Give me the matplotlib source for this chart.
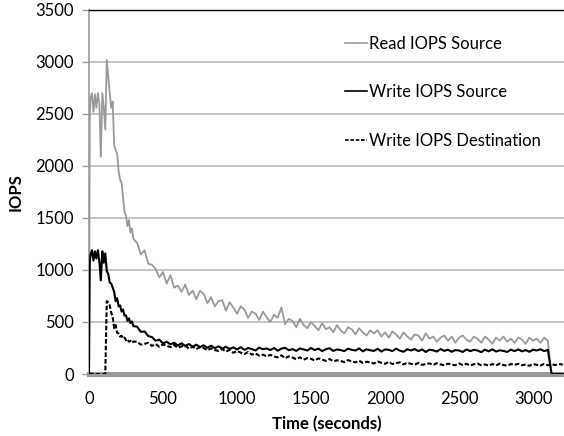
import matplotlib
matplotlib.use('Agg')
import matplotlib.pyplot as plt

plt.rcParams['font.family'] = ['Lato', 'DejaVu Sans']

# time stamps (seconds)
t_early = [0, 5, 10, 20, 30, 40, 50, 60, 70, 80, 90, 100, 110, 120, 130, 140,
           150, 160, 170, 180, 190, 200, 210, 220, 230, 240, 250, 260, 270,
           280, 290, 300]
t_late = [325, 350, 375, 400, 425, 450, 475, 500, 525, 550, 575, 600,
          625, 650, 675, 700, 725, 750, 775, 800, 825, 850, 875, 900,
          925, 950, 975, 1000, 1025, 1050, 1075, 1100, 1125, 1150, 1175, 1200,
          1225, 1250, 1275, 1300, 1325, 1350, 1375, 1400, 1425, 1450, 1475, 1500,
          1525, 1550, 1575, 1600, 1625, 1650, 1675, 1700, 1725, 1750, 1775, 1800,
          1825, 1850, 1875, 1900, 1925, 1950, 1975, 2000, 2025, 2050, 2075, 2100,
          2125, 2150, 2175, 2200, 2225, 2250, 2275, 2300, 2325, 2350, 2375, 2400,
          2425, 2450, 2475, 2500, 2525, 2550, 2575, 2600, 2625, 2650, 2675, 2700,
          2725, 2750, 2775, 2800, 2825, 2850, 2875, 2900, 2925, 2950, 2975, 3000,
          3025, 3050, 3075, 3100, 3125, 3150, 3175, 3200]
time_s = t_early + t_late

read_src = [0, 2450, 2650, 2700, 2520, 2690, 2560, 2700, 2600, 2090, 2700, 2560,
            2350, 3020, 2860, 2700, 2560, 2620, 2200, 2150, 2120, 1950, 1870, 1840,
            1700, 1560, 1520, 1420, 1480, 1360, 1400, 1300,
            1260, 1150, 1190, 1060, 1050, 1010, 930, 980, 870, 950, 830, 850,
            790, 860, 760, 800, 720, 800, 770, 680, 740, 650, 700, 710,
            610, 690, 640, 580, 650, 620, 540, 600, 580, 520, 600, 545,
            500, 570, 540, 640, 480, 530, 510, 450, 530, 470, 440, 500,
            460, 420, 490, 430, 450, 400, 470, 420, 390, 450, 430, 380,
            440, 400, 370, 420, 390, 420, 360, 400, 350, 410, 380, 340,
            400, 360, 330, 380, 370, 320, 390, 340, 360, 310, 350, 370,
            320, 360, 300, 350, 370, 330, 310, 360, 340, 300, 360, 330,
            290, 350, 320, 360, 310, 340, 300, 350, 330, 290, 350, 320,
            340, 300, 350, 320, 0, 0, 0, 0]

write_src = [0, 1060, 1150, 1190, 1090, 1180, 1110, 1190, 1080, 900, 1180, 1070,
             1160, 990, 960, 880, 870, 830, 790, 700, 730, 650, 660, 600,
             620, 560, 565, 510, 535, 490, 505, 460,
             455, 405, 410, 365, 355, 320, 330, 295, 310, 285, 300, 275,
             295, 270, 288, 262, 282, 258, 276, 252, 272, 248, 266, 244,
             262, 240, 256, 236, 258, 232, 250, 240, 226, 254, 238, 246,
             230, 250, 224, 244, 252, 228, 240, 222, 246, 236, 226, 250,
             230, 244, 220, 238, 248, 222, 236, 230, 220, 244, 232, 226,
             246, 218, 238, 228, 222, 242, 216, 236, 232, 220, 244, 224,
             214, 238, 226, 240, 220, 236, 212, 234, 228, 216, 240, 222,
             234, 214, 230, 226, 212, 236, 220, 232, 226, 210, 234, 218,
             238, 216, 228, 222, 212, 234, 220, 236, 218, 230, 214, 234,
             226, 238, 220, 232, 0, 0, 0, 0]

write_dst = [0, 0, 0, 0, 0, 0, 0, 0, 0, 0, 0, 0,
             0, 700, 690, 660, 590, 550, 440, 470, 395, 390, 360, 368,
             340, 350, 325, 335, 310, 318, 300, 312,
             310, 282, 290, 300, 270, 288, 262, 284, 272, 258, 280, 252,
             266, 272, 244, 262, 240, 258, 250, 228, 246, 230, 222, 240,
             216, 232, 204, 220, 206, 192, 212, 186, 198, 176, 186, 170,
             184, 168, 160, 180, 152, 170, 158, 142, 160, 138, 152, 146,
             130, 150, 138, 126, 144, 122, 132, 126, 114, 134, 120, 112,
             128, 106, 118, 112, 100, 120, 108, 98, 116, 96, 104, 112,
             92, 108, 98, 90, 106, 88, 96, 102, 86, 104, 92, 84,
             100, 90, 84, 102, 86, 98, 82, 94, 100, 84, 92, 80,
             96, 82, 100, 86, 80, 96, 88, 98, 84, 92, 78, 96,
             88, 80, 98, 84, 94, 86, 96, 90]

series_labels = ['Read IOPS Source', 'Write IOPS Source', 'Write IOPS Destination']
y_ticks = [0, 500, 1000, 1500, 2000, 2500, 3000, 3500]
x_ticks = [0, 500, 1000, 1500, 2000, 2500, 3000]

fig = plt.figure(figsize=(5.64, 4.36), dpi=100)
ax = fig.add_axes([89 / 564, 1 - 374 / 436, (564 - 89) / 564, (374 - 10) / 436])

ax.plot(time_s, read_src, color='#999999', lw=1.3, label=series_labels[0], zorder=3)
ax.plot(time_s, write_src, color='black', lw=1.5, label=series_labels[1], zorder=4)
ax.plot(time_s, write_dst, color='black', lw=1.5, linestyle=(0, (2.2, 1.0)),
        label=series_labels[2], zorder=5)

ax.set_xlim(0, 3209)
ax.set_ylim(0, 3500)
ax.set_yticks(y_ticks)
ax.set_xticks(x_ticks)
ax.yaxis.grid(True, color='#c0c0c0', lw=1.3)
ax.set_axisbelow(True)

ax.spines['right'].set_visible(False)
ax.spines['top'].set_color('black')
ax.spines['top'].set_linewidth(1.0)
ax.spines['left'].set_color('#999999')
ax.spines['left'].set_linewidth(1.2)
ax.spines['bottom'].set_color('#999999')
ax.spines['bottom'].set_linewidth(3.6)

ax.tick_params(axis='y', length=5, width=1, color='#999999', labelsize=12, pad=6)
ax.tick_params(axis='x', length=0, labelsize=12, pad=12)

ax.set_xlabel('Time (seconds)', fontsize=12, fontweight='bold', labelpad=7)
ax.set_ylabel('IOPS', fontsize=12, fontweight='bold', labelpad=8)

leg = ax.legend(loc='upper left', bbox_to_anchor=(345 / 564, 1 - 36 / 436),
                bbox_transform=fig.transFigure, frameon=False, fontsize=12,
                handlelength=1.3, handletextpad=0.15, labelspacing=1.94,
                borderpad=0, borderaxespad=0)
for h in leg.get_lines():
    h.set_linewidth(1.2)

fig.savefig('out.png', dpi=100)
